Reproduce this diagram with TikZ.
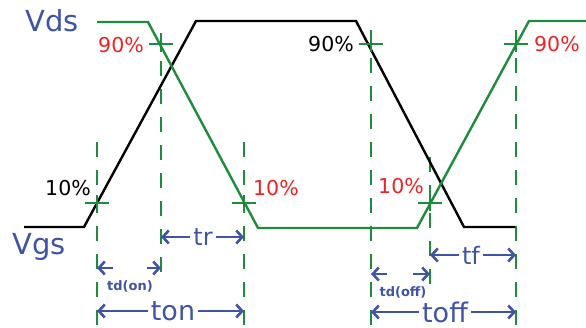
\documentclass[tikz,border=0pt]{standalone}
\usepackage{fontspec}
\setmainfont{DejaVu Sans}
\usetikzlibrary{arrows.meta}
\definecolor{sigblue}{RGB}{64,84,166}
\definecolor{sigred}{RGB}{235,35,35}
\definecolor{siggreen}{RGB}{30,140,60}

\begin{document}
\begin{tikzpicture}[x=1pt, y=-1pt, >={Straight Barb[length=6pt,width=13pt]}]
        \tikzset{wave/.style={line width=2.4pt},
          guide/.style={siggreen, line width=2.6pt, dash pattern=on 15pt off 13pt},
          cross/.style={siggreen, line width=2.4pt},
          pct/.style={inner sep=0pt, font=\fontsize{20.5}{20.5}\selectfont},
          sig/.style={inner sep=0pt, text=sigblue, font=\fontsize{29}{29}\selectfont},
          span/.style={inner xsep=3pt, inner ysep=0pt, text=sigblue, font=\fontsize{24}{24}\selectfont},
          bigspan/.style={span, font=\fontsize{27}{27}\selectfont},
          dly/.style={inner sep=0pt, text=sigblue, font=\bfseries\fontsize{13}{13}\selectfont},
          dim/.style={->, sigblue, line width=2.6pt}}
        \useasboundingbox (0,0) rectangle (586,328);
        % guide lines
        \coordinate (g1) at (97,0);
        \coordinate (g2) at (161,0);
        \coordinate (g3) at (244,0);
        \coordinate (g4) at (371,0);
        \coordinate (g5) at (430,0);
        \coordinate (g6) at (516,0);
        \draw[guide] (97,142) -- (97,328);
        \draw[guide] (161,33) -- (161,283);
        \draw[guide] (244,142) -- (244,328);
        \draw[guide] (371,30) -- (371,328);
        \draw[guide] (430,157) -- (430,288);
        \draw[guide] (516,30) -- (516,328);
        % waveforms
        \draw[wave, black] (24,227) -- (84,227) -- (196,21) -- (356,21) -- (464,227) -- (515,227);
        \draw[wave, siggreen] (97,22) -- (148,22) -- (258,228) -- (417,228) -- (529,21) -- (586,21);
        % 10% and 90% marks
        \foreach \px/\py in {161/44, 371/44, 516/44, 97/203, 244/203, 430/203}
          \draw[cross] (\px,\py) ++(-12,0) -- ++(24,0) (\px,\py) ++(0,-8) -- ++(0,16);
        \node[sig] (vds) at (52,21) {Vds};
        \node[sig] (vgs) at (39,247) {Vgs};
        \node[pct, text=sigred, anchor=east] (p90a) at (144,45) {90\%};
        \node[pct, text=black, anchor=east] (p90b) at (354,44) {90\%};
        \node[pct, text=sigred, anchor=west] (p90c) at (534,44) {90\%};
        \node[pct, text=black, anchor=east] (p10a) at (91,188) {10\%};
        \node[pct, text=sigred, anchor=west] (p10b) at (253,188) {10\%};
        \node[pct, text=sigred, anchor=east] (p10c) at (424,186) {10\%};
        % timing spans
        \node[span] (tr) at (203,237) {tr};
        \draw[dim] (tr.west) -- (tr.west -| g2);
        \draw[dim] (tr.east) -- (tr.east -| g3);
        \node[bigspan] (ton) at (173,311) {ton};
        \draw[dim] (ton.west) -- (ton.west -| g1);
        \draw[dim] (ton.east) -- (ton.east -| g3);
        \node[inner sep=0pt, minimum width=34pt] (tdon) at (130,268) {};
        \draw[dim] (tdon.west) -- (tdon.west -| g1);
        \draw[dim] (tdon.east) -- (tdon.east -| g2);
        \node[dly] (tdonlbl) at (130,286) {td(on)};
        \node[span] (tf) at (471,255) {tf};
        \draw[dim] (tf.west) -- (tf.west -| g5);
        \draw[dim] (tf.east) -- (tf.east -| g6);
        \node[bigspan] (toff) at (445,312) {toff};
        \draw[dim] (toff.west) -- (toff.west -| g4);
        \draw[dim] (toff.east) -- (toff.east -| g6);
        \node[inner sep=0pt, minimum width=26pt] (tdoff) at (400,274) {};
        \draw[dim] (tdoff.west) -- (tdoff.west -| g4);
        \draw[dim] (tdoff.east) -- (tdoff.east -| g5);
        \node[dly] (tdofflbl) at (403,292) {td(off)};
    \end{tikzpicture}
\end{document}
